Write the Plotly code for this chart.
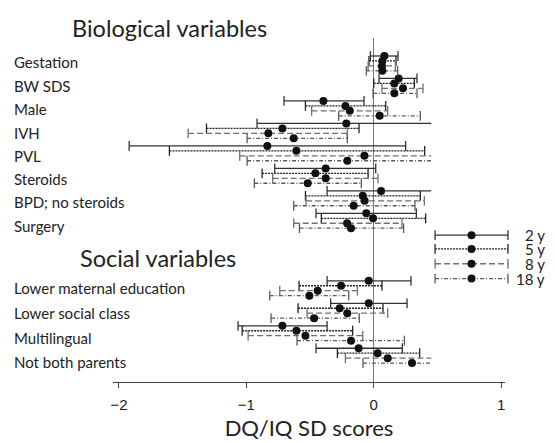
import plotly.graph_objects as go

# ---------------- data ----------------
variables = ["Gestation", "BW SDS", "Male", "IVH", "PVL", "Steroids",
             "BPD; no steroids", "Surgery",
             "Lower maternal education", "Lower social class",
             "Multilingual", "Not both parents"]
row_pos = [0, 1, 2, 3, 4, 5, 6, 7, 10, 11, 12, 13]
ages = ["2 y", "5 y", "8 y", "18 y"]

est_2y = [0.084, 0.196, -0.395, -0.215, -0.835, -0.377, 0.058, -0.058,
          -0.039, -0.039, -0.717, -0.118]
lo_2y = [-0.026, 0.042, -0.704, -0.916, -1.920, -0.777, -0.366, -0.453,
         -0.366, -0.338, -1.065, -0.453]
hi_2y = [0.191, 0.340, -0.076, 0.484, 0.251, 0.016, 0.463, 0.335,
         0.293, 0.262, -0.366, 0.225]

est_5y = [0.068, 0.162, -0.222, -0.717, -0.607, -0.458, -0.086, -0.005,
          -0.256, -0.267, -0.607, 0.031]
lo_5y = [-0.037, 0.000, -0.536, -1.313, -1.604, -0.876, -0.536, -0.411,
         -0.586, -0.594, -1.033, -0.285]
hi_5y = [0.175, 0.319, 0.094, -0.115, 0.400, -0.044, 0.366, 0.408,
         0.065, 0.073, -0.165, 0.361]

est_8y = [0.065, 0.230, -0.188, -0.827, -0.073, -0.377, -0.071, -0.209,
          -0.440, -0.207, -0.536, 0.110]
lo_8y = [-0.044, 0.065, -0.487, -1.457, -1.052, -0.793, -0.531, -0.628,
         -0.738, -0.523, -0.986, -0.222]
hi_8y = [0.170, 0.387, 0.110, -0.207, 0.895, 0.034, 0.398, 0.222,
         -0.128, 0.110, -0.086, 0.460]

est_18y = [0.068, 0.162, 0.047, -0.628, -0.207, -0.518, -0.157, -0.178,
           -0.505, -0.468, -0.178, 0.301]
lo_18y = [-0.058, -0.005, -0.275, -0.994, -0.994, -0.937, -0.628, -0.583,
          -0.816, -0.806, -0.602, -0.084]
hi_18y = [0.188, 0.340, 0.366, -0.207, 0.594, -0.097, 0.324, 0.235,
          -0.196, -0.113, 0.241, 0.701]

x_tick_vals = [-2, -1, 0, 1]
x_tick_text = ["\u22122", "\u22121", "0", "1"]

# ---------------- styles / placement ----------------
series = [
    (ages[0], est_2y, lo_2y, hi_2y, "#333333", "solid"),
    (ages[1], est_5y, lo_5y, hi_5y, "#222222", "2px,1px"),
    (ages[2], est_8y, lo_8y, hi_8y, "#707070", "6px,3px"),
    (ages[3], est_18y, lo_18y, hi_18y, "#5a5a5a", "4px,2px,1px,2px"),
]
offsets = [-0.33, -0.11, 0.11, 0.33]
label_pos = [-0.06, 1.0, 2.03, 3.08, 4.12, 5.14, 6.16, 7.22,
             10.0, 11.08, 12.2, 13.29]
legend_rows = [7.64, 8.25, 8.91, 9.57]
LABEL_FONT = "Lato"

fig = go.Figure()


def add_series(xaxis, est, lo, hi, ys, color, dash, name):
    lx, ly = [], []
    for a, b, y in zip(lo, hi, ys):
        lx += [a, b, None]
        ly += [y, y, None]
    fig.add_trace(go.Scatter(x=lx, y=ly, mode="lines", xaxis=xaxis, yaxis="y",
                             line=dict(color=color, width=1.3, dash=dash),
                             hoverinfo="skip", showlegend=False, name=name))
    fig.add_trace(go.Scatter(x=list(lo) + list(hi), y=list(ys) + list(ys),
                             mode="markers", xaxis=xaxis, yaxis="y",
                             marker=dict(symbol="line-ns", size=7,
                                         line=dict(color=color, width=1.3)),
                             hoverinfo="skip", showlegend=False))
    fig.add_trace(go.Scatter(x=est, y=ys, mode="markers", xaxis=xaxis, yaxis="y",
                             marker=dict(color="#111111", size=8),
                             showlegend=False, name=name))


for k, (name, est, lo, hi, color, dash) in enumerate(series):
    ys = [p + offsets[k] for p in row_pos]
    add_series("x", est, lo, hi, ys, color, dash, name)
    # legend sample (drawn on a small auxiliary axis)
    add_series("x2", [0.3255], [0.031], [0.620], [legend_rows[k]], color, dash, name)

annotations = []
for v, p in zip(variables, label_pos):
    annotations.append(dict(text=v, x=-0.2285, xref="paper", y=p, yref="y",
                            xanchor="left", yanchor="middle", showarrow=False,
                            font=dict(family=LABEL_FONT, size=15, color="#222")))
annotations.append(dict(text="Biological variables", x=-0.0973, xref="paper",
                        y=1.029, yref="paper", xanchor="left", yanchor="middle",
                        showarrow=False,
                        font=dict(family=LABEL_FONT, size=23.5, color="#222")))
annotations.append(dict(text="Social variables", x=-0.080, xref="paper",
                        y=8.65, yref="y", xanchor="left", yanchor="middle",
                        showarrow=False,
                        font=dict(family=LABEL_FONT, size=23.5, color="#222")))
for k, a in enumerate(ages):
    annotations.append(dict(text=a, x=0.935, xref="x2", y=legend_rows[k], yref="y",
                            xanchor="right", yanchor="middle", showarrow=False,
                            font=dict(family=LABEL_FONT, size=15, color="#222")))

# the page adds an 8px body margin, so the figure is sized/offset to compensate
fig.update_layout(
    width=547, height=435,
    margin=dict(l=105, r=0, t=30, b=61),
    paper_bgcolor="white", plot_bgcolor="white",
    showlegend=False,
    xaxis=dict(domain=[0, 392 / 442], range=[-2.047, 1.031],
               tickvals=x_tick_vals, ticktext=x_tick_text,
               ticks="outside", ticklen=5, tickwidth=1.3, tickcolor="#444",
               ticklabelstandoff=4,
               showline=True, linecolor="#444", linewidth=1.3,
               showgrid=False, zeroline=True, zerolinecolor="#777",
               zerolinewidth=1.3,
               tickfont=dict(family="Liberation Sans", size=15, color="#222"),
               title=dict(text="DQ/IQ SD scores",
                          font=dict(family=LABEL_FONT, size=22, color="#222"),
                          standoff=8),
               fixedrange=True),
    xaxis2=dict(domain=[0.72, 1.0], range=[0, 1], anchor="y", visible=False,
                showgrid=False, zeroline=False, fixedrange=True),
    yaxis=dict(range=[14.17, -1.13], visible=False, showgrid=False,
               zeroline=False, fixedrange=True),
    annotations=annotations,
)

fig.write_html("out.html")
